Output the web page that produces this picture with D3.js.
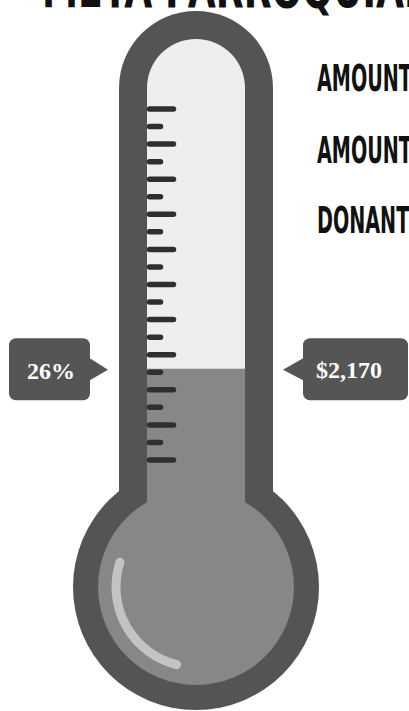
<!DOCTYPE html>
<html>
<head>
<meta charset="utf-8">
<script src="https://cdn.jsdelivr.net/npm/d3@7"></script>
<style>
  body { margin: 0; background: #fff; overflow: hidden; }
  svg { display: block; }
</style>
</head>
<body>
<div id="chart"></div>
<script>
// data
const title = 'META PARROQUIAL';
const infoLabels = ['AMOUNT RAISED:', 'AMOUNT GOAL:', 'DONANTES:'];
const percentRaised = 26;
const amountLabel = '$2,170';
const scaleDomain = [0, 100];

const W = 409, H = 711;
const cx = 196;
const condensed = '"Liberation Sans Narrow", "DejaVu Sans Condensed", sans-serif';

const svg = d3.select('#chart')
  .append('svg')
  .attr('width', W)
  .attr('height', H);

// title, mostly cut off at the top
svg.append('text')
  .attr('x', 42)
  .attr('y', 7)
  .attr('textLength', 385)
  .attr('lengthAdjust', 'spacingAndGlyphs')
  .style('font-family', condensed)
  .style('font-weight', 'bold')
  .style('font-size', '56px')
  .style('fill', '#111')
  .text(title);

// scale for the fluid level
const y = d3.scaleLinear()
  .domain(scaleDomain)
  .range([460, 109]);

// outer shell
svg.append('rect')
  .attr('x', cx - 77).attr('y', 11)
  .attr('width', 154).attr('height', 630)
  .attr('rx', 77)
  .style('fill', '#545454');
svg.append('circle')
  .attr('cx', cx).attr('cy', 587).attr('r', 123)
  .style('fill', '#545454');

// inner tube
svg.append('rect')
  .attr('x', cx - 49).attr('y', 39)
  .attr('width', 98).attr('height', 600)
  .attr('rx', 49)
  .style('fill', '#eeeeee');

// fluid
svg.append('rect')
  .attr('x', cx - 49).attr('y', y(percentRaised))
  .attr('width', 98).attr('height', 640 - y(percentRaised))
  .style('fill', '#878787');
svg.append('circle')
  .attr('cx', cx).attr('cy', 587).attr('r', 98)
  .style('fill', '#878787');

// ticks every 5, long every 10
svg.append('g')
  .selectAll('line')
  .data(y.ticks(20))
  .join('line')
  .attr('x1', 149.5)
  .attr('x2', d => d % 10 === 0 ? 173.5 : 160.5)
  .attr('y1', d => y(d))
  .attr('y2', d => y(d))
  .style('stroke', '#2f2f2f')
  .style('stroke-width', 5.5)
  .style('stroke-linecap', 'round');

// glass highlight on the bulb
const hl = d3.path();
hl.arc(cx, 587, 80, 104 * Math.PI / 180, 198 * Math.PI / 180);
svg.append('path')
  .attr('d', hl.toString())
  .style('fill', 'none')
  .style('stroke', '#c3c3c3')
  .style('stroke-width', 9)
  .style('stroke-linecap', 'round');

// callouts
const ly = y(percentRaised);

function bubble(x, w, tipX, baseX) {
  const g = svg.append('g');
  g.append('rect')
    .attr('x', x).attr('y', ly - 30.5)
    .attr('width', w).attr('height', 62)
    .attr('rx', 7)
    .style('fill', '#555');
  g.append('path')
    .attr('d', d3.line()([[baseX, ly - 11], [tipX, ly + 1], [baseX, ly + 12]]))
    .style('fill', '#555');
  return g;
}

bubble(9, 81, 108, 89).append('text')
  .attr('x', 51).attr('y', ly + 10)
  .attr('text-anchor', 'middle')
  .style('font-family', '"Liberation Serif", serif')
  .style('font-weight', 'bold')
  .style('font-size', '24px')
  .style('fill', '#fff')
  .text(percentRaised + '%');

bubble(303, 105, 283, 304).append('text')
  .attr('x', 349).attr('y', ly + 9)
  .attr('text-anchor', 'middle')
  .style('font-family', '"Liberation Serif", serif')
  .style('font-weight', 'bold')
  .style('font-size', '24px')
  .style('fill', '#fff')
  .text(amountLabel);

// info labels on the right (run off the edge)
// squeeze the font so that "AMOUNT" is about 95px wide
const probe = svg.append('text')
  .style('font-family', condensed)
  .style('font-weight', 'bold')
  .style('font-size', '38px')
  .text('AMOUNT');
const sx = 95 / probe.node().getComputedTextLength();
probe.remove();

svg.append('g')
  .selectAll('text')
  .data(infoLabels)
  .join('text')
  .attr('transform', (d, i) => `translate(317,${[91, 162.5, 233][i]}) scale(${sx},1)`)
  .style('font-family', condensed)
  .style('font-weight', 'bold')
  .style('font-size', '38px')
  .style('fill', '#111')
  .text(d => d);
</script>
</body>
</html>
